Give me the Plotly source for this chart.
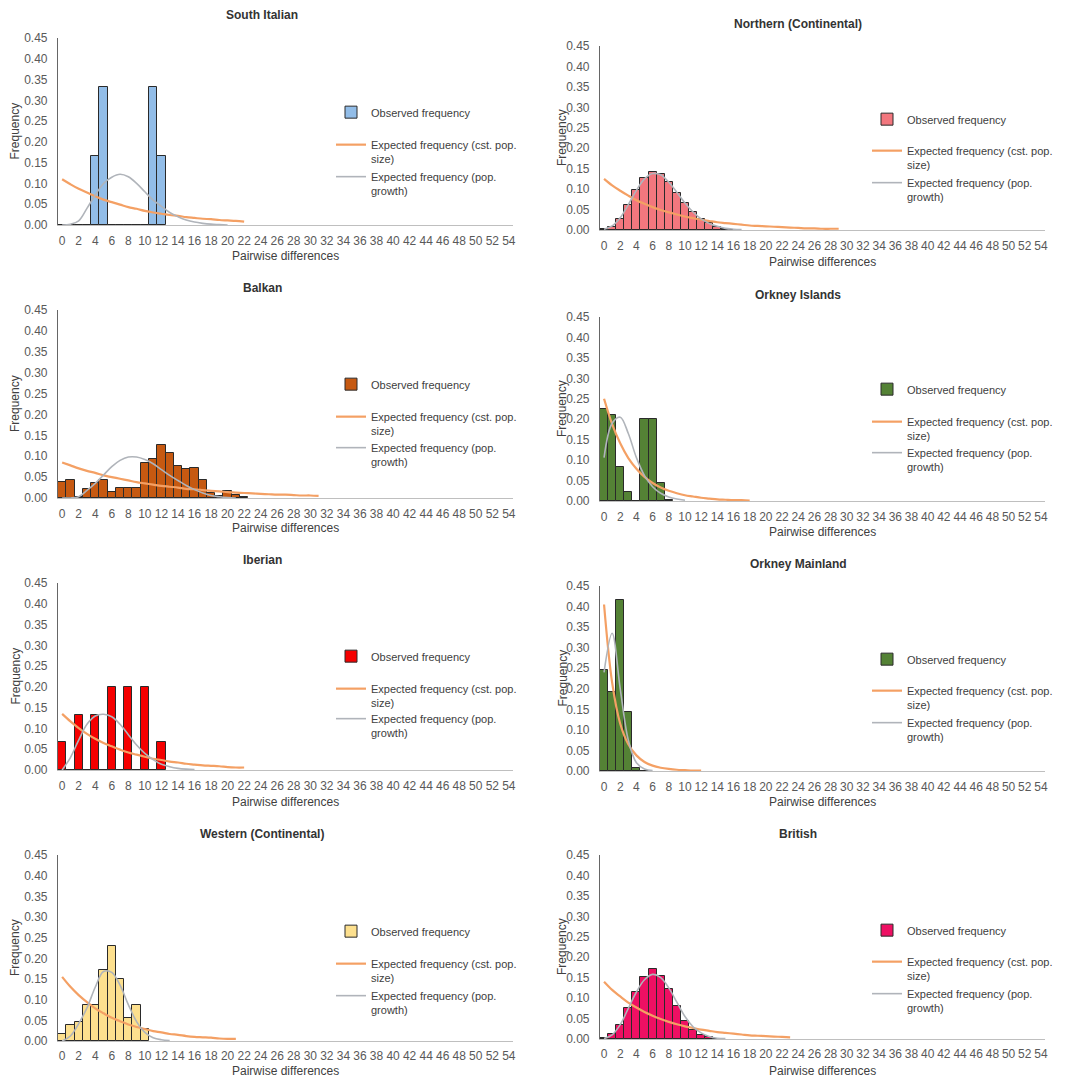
import plotly.graph_objects as go
from plotly.subplots import make_subplots

# ---------------- data ----------------
panel_titles = ["South Italian", "Northern (Continental)", "Balkan", "Orkney Islands",
                "Iberian", "Orkney Mainland", "Western (Continental)", "British"]

x_tick_values = [0, 2, 4, 6, 8, 10, 12, 14, 16, 18, 20, 22, 24, 26, 28, 30, 32, 34, 36,
                 38, 40, 42, 44, 46, 48, 50, 52, 54]
y_tick_values = [0.00, 0.05, 0.10, 0.15, 0.20, 0.25, 0.30, 0.35, 0.40, 0.45]

series_names = ["Observed frequency",
                "Expected frequency (cst. pop.<br>size)",
                "Expected frequency (pop.<br>growth)"]

# observed frequencies (pairwise differences 0, 1, 2, ...)
south_italian_obs = [0, 0, 0, 0, 0.167, 0.333, 0, 0, 0, 0, 0, 0.333, 0.167]
northern_obs = [0.002, 0.008, 0.026, 0.061, 0.097, 0.128, 0.141, 0.138, 0.118, 0.091,
                0.065, 0.045, 0.028, 0.018, 0.008, 0.003, 0.001]
balkan_obs = [0.038, 0.043, 0.003, 0.021, 0.037, 0.043, 0.015, 0.025, 0.025, 0.025,
              0.083, 0.094, 0.126, 0.108, 0.077, 0.069, 0.073, 0.043, 0.013, 0.005,
              0.017, 0.007, 0.002]
orkney_islands_obs = [0.226, 0.211, 0.084, 0.023, 0.001, 0.200, 0.200, 0.045, 0.002]
iberian_obs = [0.067, 0, 0.133, 0, 0.133, 0, 0.200, 0, 0.200, 0, 0.200, 0, 0.067]
orkney_mainland_obs = [0.245, 0.192, 0.415, 0.143, 0.007, 0.001]
western_obs = [0.018, 0.038, 0.046, 0.086, 0.086, 0.172, 0.229, 0.151, 0.056, 0.086, 0.028]
british_obs = [0.002, 0.012, 0.035, 0.075, 0.115, 0.152, 0.172, 0.155, 0.122, 0.080,
               0.045, 0.022, 0.010, 0.004, 0.001]

# expected frequency, constant population size
south_italian_cst = [0.110, 0.098, 0.087, 0.078, 0.069, 0.061, 0.055, 0.049, 0.043, 0.039,
                     0.034, 0.030, 0.027, 0.024, 0.022, 0.019, 0.017, 0.015, 0.014, 0.012,
                     0.011, 0.010, 0.008]
northern_cst = [0.125, 0.109, 0.096, 0.084, 0.073, 0.064, 0.056, 0.049, 0.043, 0.038,
                0.033, 0.029, 0.025, 0.022, 0.019, 0.017, 0.015, 0.013, 0.011, 0.010,
                0.009, 0.008, 0.007, 0.006, 0.005, 0.004, 0.004, 0.003, 0.003, 0.003]
balkan_cst = [0.085, 0.078, 0.071, 0.065, 0.060, 0.054, 0.050, 0.046, 0.042, 0.038,
              0.035, 0.032, 0.029, 0.027, 0.025, 0.022, 0.021, 0.019, 0.017, 0.016,
              0.014, 0.013, 0.012, 0.011, 0.010, 0.009, 0.008, 0.008, 0.007, 0.006,
              0.006, 0.005]
orkney_islands_cst = [0.250, 0.188, 0.141, 0.105, 0.079, 0.059, 0.044, 0.033, 0.025, 0.019,
                      0.014, 0.011, 0.008, 0.006, 0.004, 0.003, 0.002, 0.002, 0.001]
iberian_cst = [0.135, 0.117, 0.101, 0.087, 0.075, 0.065, 0.057, 0.049, 0.042, 0.037,
               0.032, 0.027, 0.024, 0.020, 0.018, 0.015, 0.013, 0.011, 0.010, 0.009,
               0.007, 0.006, 0.006]
orkney_mainland_cst = [0.405, 0.215, 0.115, 0.065, 0.038, 0.022, 0.013, 0.008, 0.005,
                       0.003, 0.002, 0.001, 0.001]
western_cst = [0.155, 0.131, 0.111, 0.094, 0.079, 0.067, 0.056, 0.048, 0.040, 0.034,
               0.029, 0.024, 0.021, 0.017, 0.015, 0.012, 0.010, 0.009, 0.008, 0.006,
               0.005, 0.005]
british_cst = [0.140, 0.120, 0.104, 0.089, 0.077, 0.066, 0.057, 0.049, 0.042, 0.036,
               0.031, 0.027, 0.023, 0.020, 0.017, 0.015, 0.013, 0.011, 0.009, 0.008,
               0.007, 0.006, 0.005, 0.004]

# expected frequency, population growth
south_italian_growth = [0.000, 0.002, 0.010, 0.040, 0.072, 0.100, 0.115, 0.122, 0.116, 0.100,
                        0.080, 0.060, 0.045, 0.030, 0.020, 0.012, 0.007, 0.004, 0.002, 0.001,
                        0.000]
northern_growth = [0.002, 0.010, 0.030, 0.062, 0.097, 0.125, 0.138, 0.135, 0.117, 0.092,
                   0.066, 0.044, 0.027, 0.016, 0.009, 0.004, 0.002, 0.001]
balkan_growth = [0.000, 0.000, 0.003, 0.018, 0.035, 0.055, 0.075, 0.090, 0.098, 0.098,
                 0.092, 0.082, 0.068, 0.054, 0.042, 0.030, 0.020, 0.012, 0.006, 0.003,
                 0.001, 0.000]
orkney_islands_growth = [0.106, 0.190, 0.205, 0.165, 0.106, 0.062, 0.035, 0.019, 0.010,
                         0.005, 0.002]
iberian_growth = [0.000, 0.030, 0.072, 0.110, 0.130, 0.134, 0.128, 0.110, 0.085, 0.060,
                  0.040, 0.025, 0.014, 0.008, 0.004, 0.002, 0.001]
orkney_mainland_growth = [0.240, 0.335, 0.200, 0.075, 0.020, 0.005, 0.001]
western_growth = [0.000, 0.012, 0.042, 0.080, 0.130, 0.168, 0.166, 0.135, 0.088, 0.047,
                  0.021, 0.008, 0.003, 0.001]
british_growth = [0.001, 0.010, 0.035, 0.075, 0.115, 0.145, 0.158, 0.150, 0.125, 0.090,
                  0.055, 0.030, 0.015, 0.006, 0.002, 0.001]

observed = [south_italian_obs, northern_obs, balkan_obs, orkney_islands_obs,
            iberian_obs, orkney_mainland_obs, western_obs, british_obs]
expected_cst = [south_italian_cst, northern_cst, balkan_cst, orkney_islands_cst,
                iberian_cst, orkney_mainland_cst, western_cst, british_cst]
expected_growth = [south_italian_growth, northern_growth, balkan_growth, orkney_islands_growth,
                   iberian_growth, orkney_mainland_growth, western_growth, british_growth]

# ---------------- styles / layout ----------------
bar_colors = ["#92bde8", "#f2777e", "#c65911", "#548235",
              "#f50000", "#548235", "#fde08e", "#ee1063"]
orange = "#f4a064"
grey = "#b0b4ba"

PAGE_OFF = 8          # default body margin of the html page
W, H = 1067 - 2 * PAGE_OFF, 1086 - 2 * PAGE_OFF


def px(x):
    return (x - PAGE_OFF) / W


def py(y):
    return 1 - (y - PAGE_OFF) / H


# layout positions given in page pixels: plot areas (left, right, top, bottom)
plot_px = [(58, 513, 38, 225), (600, 1045, 46, 230),
           (58, 513, 310, 498), (600, 1045, 317, 501),
           (58, 513, 583, 770), (600, 1045, 586, 771),
           (58, 513, 855, 1041), (600, 1045, 855, 1039)]
title_px = [(262, 15), (798, 24), (262, 288), (798, 295),
            (262, 560), (798, 564), (262, 834), (798, 834)]
xtitle_py = [256, 262, 528, 532, 802, 802, 1071, 1071]
xtick_standoff = [4, 4, 4, 4, 4, 4, 3, 3]
ytitle_px = [15, 562, 15, 562, 15, 562, 15, 562]
# legend: text start x, centre y of each entry block
legend_px = [(371, [113, 152, 184]), (907, [120, 158, 190]),
             (371, [385, 424, 455]), (907, [390, 429, 460]),
             (371, [657, 696, 726]), (907, [660, 698, 730]),
             (371, [932, 971, 1003]), (907, [931, 969, 1001])]

FONT = "Liberation Sans, Arial, sans-serif"
TXT = "#404040"

fig = make_subplots(rows=4, cols=2)

annotations = []
for i in range(8):
    r, c = i // 2 + 1, i % 2 + 1
    lids = []
    for j in range(3):
        k = 3 * i + j + 1
        lids.append("legend" if k == 1 else f"legend{k}")
    obs = observed[i]
    fig.add_trace(go.Bar(x=list(range(len(obs))), y=obs, name=series_names[0],
                         marker=dict(color=bar_colors[i], line=dict(color="#2a2a2a", width=1)),
                         width=1.0, legend=lids[0], showlegend=True), row=r, col=c)
    cst = expected_cst[i]
    fig.add_trace(go.Scatter(x=list(range(len(cst))), y=cst, name=series_names[1], mode="lines",
                             line=dict(color=orange, width=2.2, shape="spline", smoothing=1),
                             legend=lids[1], showlegend=True), row=r, col=c)
    gr = expected_growth[i]
    fig.add_trace(go.Scatter(x=list(range(len(gr))), y=gr, name=series_names[2], mode="lines",
                             line=dict(color=grey, width=1.6, shape="spline", smoothing=1),
                             legend=lids[2], showlegend=True), row=r, col=c)

    l, rr, t, b = plot_px[i]
    ax = "" if i == 0 else str(i + 1)
    fig.layout[f"xaxis{ax}"].update(
        domain=[px(l), px(rr)], range=[-0.5, 54.5], tickvals=x_tick_values,
        ticktext=[str(v) for v in x_tick_values], tickangle=0,
        showline=True, linecolor="#bfbfbf", linewidth=1.2, showgrid=False, zeroline=False,
        ticks="", ticklabelstandoff=xtick_standoff[i],
        tickfont=dict(size=12, color="#595959", family=FONT))
    fig.layout[f"yaxis{ax}"].update(
        domain=[py(b), py(t)], range=[0, 0.45], tickvals=y_tick_values,
        tickformat=".2f", showline=True, linecolor="#666666", linewidth=1.2,
        showgrid=False, zeroline=False, ticks="", ticklabelstandoff=7,
        tickfont=dict(size=12, color="#595959", family=FONT))

    tx, ty = title_px[i]
    annotations.append(dict(text=f"<b>{panel_titles[i]}</b>", x=px(tx), y=py(ty),
                            xref="paper", yref="paper", showarrow=False,
                            xanchor="center", yanchor="middle",
                            font=dict(size=12, color="#333333", family=FONT)))
    annotations.append(dict(text="Pairwise differences", x=px((l + rr) / 2),
                            y=py(xtitle_py[i]), xref="paper", yref="paper",
                            showarrow=False, xanchor="center", yanchor="middle",
                            font=dict(size=12, color=TXT, family=FONT)))
    annotations.append(dict(text="Frequency", x=px(ytitle_px[i]), y=py((t + b) / 2),
                            xref="paper", yref="paper", showarrow=False, textangle=-90,
                            xanchor="center", yanchor="middle",
                            font=dict(size=12, color=TXT, family=FONT)))

    lx, lys = legend_px[i]
    for j in range(3):
        fig.layout[lids[j]] = dict(
            x=px(lx - 40), y=py(lys[j]), xanchor="left", yanchor="middle",
            bgcolor="rgba(0,0,0,0)", borderwidth=0, valign="top", itemwidth=30,
            font=dict(size=11, color=TXT, family=FONT))

fig.update_layout(
    width=W, height=H, margin=dict(l=0, r=0, t=0, b=0, autoexpand=False),
    paper_bgcolor="white", plot_bgcolor="white", bargap=0, barmode="overlay",
    font=dict(family=FONT, color=TXT), annotations=annotations,
)

fig.write_html("out.html")
